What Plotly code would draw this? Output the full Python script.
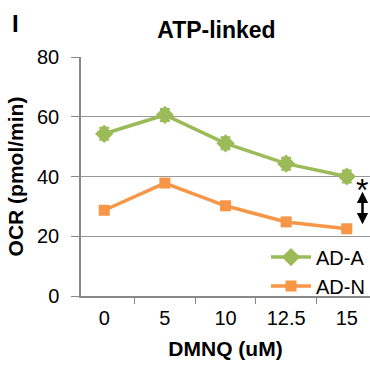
import plotly.graph_objects as go

categories = ["0", "5", "10", "12.5", "15"]
ad_a = [54.3, 60.6, 51.1, 44.3, 40.0]
ad_a_err = [2.0, 2.0, 2.0, 2.0, 2.0]
ad_n = [28.7, 37.8, 30.2, 24.8, 22.5]
ad_n_err = [1.2, 1.2, 0.8, 0.8, 0.6]
y_ticks = [0, 20, 40, 60, 80]

FONT = "Liberation Sans, Arial, sans-serif"
GREEN = "#9BBB59"
ORANGE = "#F79646"

fig = go.Figure()
fig.add_trace(go.Scatter(
    x=categories, y=ad_a, name="AD-A", mode="lines+markers",
    line=dict(color=GREEN, width=3.5),
    marker=dict(symbol="diamond", size=14, color=GREEN),
    error_y=dict(type="data", array=ad_a_err, color=GREEN, thickness=2, width=5),
))
fig.add_trace(go.Scatter(
    x=categories, y=ad_n, name="AD-N", mode="lines+markers",
    line=dict(color=ORANGE, width=3.5),
    marker=dict(symbol="square", size=11, color=ORANGE),
    error_y=dict(type="data", array=ad_n_err, color=ORANGE, thickness=2, width=5),
))

fig.update_layout(
    width=370, height=365,
    margin=dict(l=81, r=0, t=57, b=69),
    paper_bgcolor="white", plot_bgcolor="white",
    font=dict(family=FONT, size=20, color="black"),
    showlegend=True,
    legend=dict(x=1.0, xanchor="right", y=-0.04, yanchor="bottom",
                bgcolor="rgba(0,0,0,0)", font=dict(size=20),
                itemwidth=40, tracegroupgap=0),
    title=dict(text="<b>ATP-linked</b>", x=0.585, xanchor="center",
               y=0.918, yanchor="middle", font=dict(size=23)),
)
fig.update_xaxes(
    type="category", tickson="boundaries", ticks="outside", ticklen=6,
    tickcolor="#888888", showline=True, linecolor="#888888", linewidth=1.5,
    showgrid=False, tickfont=dict(size=20), automargin=True, ticklabelstandoff=3,
    title=dict(text="<b>DMNQ (uM)</b>", font=dict(size=21), standoff=14),
)
fig.update_yaxes(
    range=[0, 80], tickvals=y_ticks, ticks="outside", ticklen=8,
    tickcolor="#888888", showline=True, linecolor="#888888", linewidth=1.5,
    showgrid=True, gridcolor="#999999", gridwidth=1.2, zeroline=False,
    tickfont=dict(size=20), automargin=True, ticklabelstandoff=8,
    title=dict(text="<b>OCR (pmol/min)</b>", font=dict(size=21), standoff=8),
)

fig.add_annotation(text="<b>I</b>", xref="paper", yref="paper", x=-0.245, y=1.14,
                   xanchor="left", yanchor="middle", showarrow=False,
                   font=dict(size=24, family=FONT))
fig.add_annotation(text="*", xref="paper", yref="y", x=1.0, y=35.5,
                   xanchor="right", yanchor="middle", showarrow=False,
                   font=dict(size=32, family=FONT))
fig.add_annotation(x=0.974, y=24.0, xref="paper", yref="y",
                   ax=0, ay=-34, axref="pixel", ayref="pixel",
                   showarrow=True, arrowhead=2, startarrowhead=2, arrowside="end+start",
                   arrowsize=0.9, startarrowsize=0.9, arrowwidth=2.5, arrowcolor="black", text="")

fig.write_html("out.html", config={"displayModeBar": False},
               post_script="document.body.style.margin='0';document.body.style.padding='0';")
